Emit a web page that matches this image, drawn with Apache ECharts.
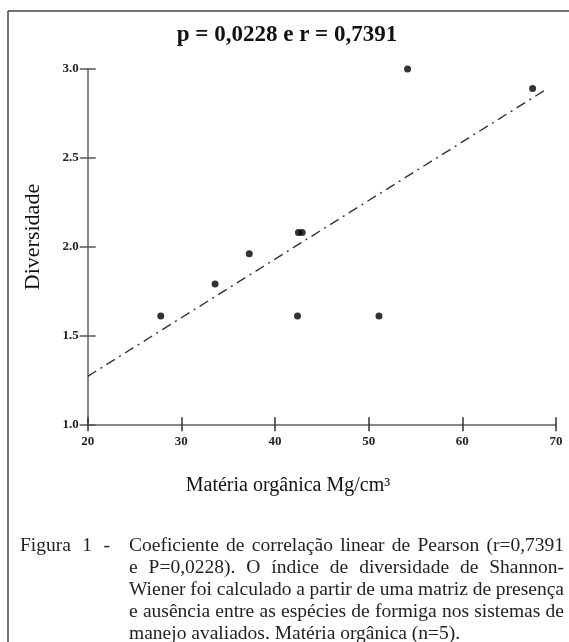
<!DOCTYPE html>
<html>
<head>
<meta charset="utf-8">
<script src="https://cdn.jsdelivr.net/npm/echarts@6/dist/echarts.min.js"></script>
<style>
html,body{margin:0;padding:0;background:#fff;}
#chart{width:569px;height:642px;}
</style>
</head>
<body>
<div id="chart"></div>
<script>
// ---- data ----
const xValues = [27.8, 33.6, 37.25, 42.5, 42.9, 42.4, 51.1, 54.15, 67.5];
const yValues = [1.61, 1.79, 1.96, 2.08, 2.08, 1.61, 1.61, 3.00, 2.89];
const trendX = [20, 69.1];
const trendY = [1.27, 2.89];
const xTickLabels = [20, 30, 40, 50, 60, 70];
const yTickLabels = ['1.0', '1.5', '2.0', '2.5', '3.0'];
const titleText = 'p = 0,0228 e r = 0,7391';
const xName = 'Matéria orgânica Mg/cm³';
const yName = 'Diversidade';
const captionHead = ['Figura', '1', '-'];
const captionLines = [
  'Coeficiente de correlação linear de Pearson (r=0,7391',
  'e P=0,0228). O índice de diversidade de Shannon-',
  'Wiener foi calculado a partir de uma matriz de presença',
  'e ausência entre as espécies de formiga nos sistemas de',
  'manejo avaliados. Matéria orgânica (n=5).'
];

const SERIF = '"Liberation Serif", "DejaVu Serif", serif';
const chart = echarts.init(document.getElementById('chart'), null, {renderer: 'canvas'});

const scatterData = xValues.map((x, i) => [x, yValues[i]]);
const trendData = trendX.map((x, i) => [x, trendY[i]]);

// caption, justified word-by-word
const capFontSize = 19.5;
const capFont = capFontSize + 'px ' + SERIF;
const mctx = document.createElement('canvas').getContext('2d');
mctx.font = capFont;
const capLeft = 129, capRight = 564, capTop = 546, capStep = 22;
const graphics = [];
function justifyWords(words, left, right, y, justify) {
  const widths = words.map(w => mctx.measureText(w).width);
  const total = widths.reduce((a, b) => a + b, 0);
  const spaceW = mctx.measureText(' ').width;
  const gap = justify && words.length > 1 ? (right - left - total) / (words.length - 1) : spaceW;
  let x = left;
  words.forEach((w, wi) => {
    graphics.push({type: 'text', x: x, y: y, silent: true,
      style: {text: w, font: capFont, fill: '#222', textVerticalAlign: 'middle'}});
    x += widths[wi] + gap;
  });
}
justifyWords(captionHead, 20, 110, capTop, true);
captionLines.forEach((line, li) => {
  justifyWords(line.split(' '), capLeft, capRight, capTop + li * capStep, li < captionLines.length - 1);
});
// axis names placed as in the reference
graphics.push({type: 'text', x: 288, y: 486, silent: true,
  style: {text: xName, font: '20px ' + SERIF, fill: '#111', textAlign: 'center', textVerticalAlign: 'middle'}});
graphics.push({type: 'text', x: 33, y: 237, rotation: Math.PI / 2, silent: true,
  style: {text: yName, font: '22px ' + SERIF, fill: '#111', textAlign: 'center', textVerticalAlign: 'middle'}});
// frame lines
graphics.push({type: 'line', silent: true, shape: {x1: 8, y1: 11, x2: 569, y2: 11}, style: {stroke: '#444', lineWidth: 1.5}});
graphics.push({type: 'line', silent: true, shape: {x1: 8, y1: 11, x2: 8, y2: 642}, style: {stroke: '#444', lineWidth: 1.5}});

const axisLabelStyle = {fontFamily: SERIF, fontWeight: 'bold', fontSize: 13, color: '#222'};

const option = {
  backgroundColor: '#fff',
  animation: false,
  title: {
    text: titleText, left: 282, top: 19, textAlign: 'center',
    textStyle: {fontFamily: SERIF, fontWeight: 'bold', fontSize: 23, color: '#111'}
  },
  grid: {left: 87.7, right: 13, top: 69, bottom: 217.7, containLabel: false},
  xAxis: [{
    type: 'value', min: 20, max: 70, interval: 10, position: 'bottom',
    axisLine: {show: true, lineStyle: {color: '#888', width: 2}},
    axisTick: {show: true, length: 7, lineStyle: {color: '#333', width: 1.5}},
    axisLabel: Object.assign({margin: 11, formatter: v => xTickLabels.includes(v) ? String(v) : ''}, axisLabelStyle),
    splitLine: {show: false}
  }, {
    type: 'value', min: 20, max: 70, interval: 10, position: 'bottom', offset: 0,
    axisLine: {show: false},
    axisTick: {show: true, inside: true, length: 7, lineStyle: {color: '#333', width: 1.5}},
    axisLabel: {show: false}, splitLine: {show: false}
  }],
  yAxis: [{
    type: 'value', min: 1, max: 3, interval: 0.5, position: 'left',
    axisLine: {show: true, lineStyle: {color: '#888', width: 2}},
    axisTick: {show: true, length: 8, lineStyle: {color: '#555', width: 1.5}},
    axisLabel: Object.assign({margin: 9, formatter: v => yTickLabels[Math.round((v - 1) / 0.5)]}, axisLabelStyle),
    splitLine: {show: false}
  }, {
    type: 'value', min: 1, max: 3, interval: 0.5, position: 'left', offset: 0,
    axisLine: {show: false},
    axisTick: {show: true, inside: true, length: 8, lineStyle: {color: '#555', width: 1.5}},
    axisLabel: {show: false}, splitLine: {show: false}
  }],
  series: [{
    type: 'line', data: trendData, xAxisIndex: 0, yAxisIndex: 0,
    showSymbol: false, symbol: 'none',
    lineStyle: {color: '#333', width: 1.4, type: [10, 5, 2, 5]},
    silent: true, z: 2
  }, {
    type: 'scatter', data: scatterData, xAxisIndex: 0, yAxisIndex: 0,
    symbol: 'circle', symbolSize: 7,
    itemStyle: {color: '#000'}, z: 3
  }],
  graphic: graphics
};
chart.setOption(option);
</script>
</body>
</html>
